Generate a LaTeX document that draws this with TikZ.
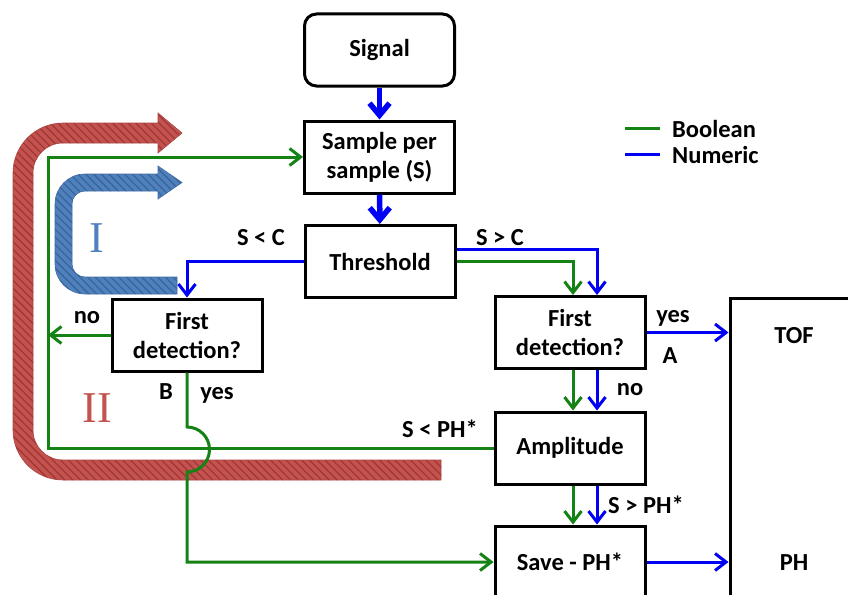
\documentclass[tikz,border=0pt]{standalone}
\usepackage{fontspec}
\setmainfont{Carlito}
\newfontfamily\romanfont{Liberation Serif}
\usetikzlibrary{arrows.meta,patterns.meta}
\definecolor{boolg}{RGB}{20,130,20}
\definecolor{numb}{RGB}{0,0,245}
\definecolor{bandred}{RGB}{196,82,78}
\definecolor{bandredd}{RGB}{160,56,54}
\definecolor{bandredo}{RGB}{170,70,68}
\definecolor{bandblue}{RGB}{79,129,189}
\definecolor{bandblued}{RGB}{58,100,155}
\definecolor{bandblueo}{RGB}{65,110,165}
\tikzset{
  box/.style={draw=black,line width=3pt,fill=white,minimum width=150pt,minimum height=72pt,inner sep=0pt,align=center,font=\fontsize{24.5}{29}\selectfont\bfseries},
  lbl/.style={inner sep=0pt,anchor=base,font=\fontsize{24.5}{29}\selectfont\bfseries},
  tip/.style={-{Straight Barb[length=11pt,width=17pt]}},
  tipthick/.style={-{Straight Barb[length=12pt,width=20pt]}},
  bool/.style={draw=boolg,line width=3pt},
  num/.style={draw=numb,line width=3pt},
  numthick/.style={draw=numb,line width=5.5pt},
  redband/.style={preaction={fill=bandred},pattern={Lines[angle=-45,distance=5.5pt,line width=1.3pt]},pattern color=bandredd,draw=bandredo,line width=0.6pt},
  blueband/.style={preaction={fill=bandblue},pattern={Lines[angle=-45,distance=5.5pt,line width=1.3pt]},pattern color=bandblued,draw=bandblueo,line width=0.6pt},
}
\begin{document}
\begin{tikzpicture}[x=1pt,y=-1pt]
\clip (0,0) rectangle (848,594);
\fill[white] (0,0) rectangle (848,594);
% decorative hatched arrows
\path[redband] (441,460) -- (63,460) .. controls (46.4,460) and (33,446.6) .. (33,430) -- (33,173) .. controls (33,156.4) and (46.4,143) .. (63,143) -- (158,143) -- (158,153) -- (182,133) -- (158,113) -- (158,123) -- (63,123) .. controls (35.4,123) and (13,145.4) .. (13,173) -- (13,430) .. controls (13,457.6) and (35.4,480) .. (63,480) -- (441,480) -- cycle;
\path[blueband] (177,277) -- (85,277) .. controls (77.8,277) and (72,271.2) .. (72,264) -- (72,204) .. controls (72,196.8) and (77.8,191) .. (85,191) -- (158,191) -- (158,199) -- (182,182.5) -- (158,166) -- (158,174) -- (85,174) .. controls (68.4,174) and (55,187.4) .. (55,204) -- (55,264) .. controls (55,280.6) and (68.4,294) .. (85,294) -- (177,294) -- cycle;
\node[text=bandblue,font=\romanfont\fontsize{44}{44}\selectfont,inner sep=0pt] (rI) at (97,238) {I};
\node[text=bandred,font=\romanfont\fontsize{44}{44}\selectfont,inner sep=0pt] (rII) at (97,408) {II};
% boxes
\node[box,rounded corners=12pt] (sig) at (379.5,50) {Signal};
\node[box] (samp) at (379.5,157) {Sample per\\sample (S)};
\node[box] (thr) at (380,261.5) {Threshold};
\node[box] (fdl) at (187,335) {First\\detection?};
\node[box] (fdr) at (570,332.5) {First\\detection?};
\node[box] (amp) at (570,448) {Amplitude};
\node[box] (save) at (570,562) {Save - PH*};
\node[draw=black,line width=3pt,minimum width=150pt,minimum height=330pt,inner sep=0pt] (out) at (805,463) {};
\node[lbl] (tof) at (794,343) {TOF};
\node[lbl] (ph) at (794,570) {PH};
\coordinate (lp) at (48,448);
% connectors
\draw[numthick,tipthick] (sig) -- (samp);
\draw[numthick,tipthick] (samp) -- (thr);
\draw[num,tip] (thr.west) -| (fdl.north);
\draw[num,tip] ([yshift=12pt]thr.east) -| ([xshift=27pt]fdr.north);
\draw[bool,tip] (thr.east) -| ([xshift=3pt]fdr.north);
\draw[num,tip] (fdr.east) -- (fdr.east -| out.west);
\draw[bool,tip] ([xshift=3pt]fdr.south) -- ([xshift=3pt]amp.north);
\draw[num,tip] ([xshift=27pt]fdr.south) -- ([xshift=27pt]amp.north);
\draw[bool,tip] ([xshift=3pt]amp.south) -- ([xshift=3pt]save.north);
\draw[num,tip] ([xshift=27pt]amp.south) -- ([xshift=27pt]save.north);
\draw[num,tip] (save.east) -- (save.east -| out.west);
\draw[bool,tip] (fdl.west) -- (fdl.west -| lp);
\draw[bool,tip] (amp.west) -- (amp.west -| lp) |- (samp.west);
\draw[bool,tip] (fdl.south) -- (187,427) .. controls (199.4,427) and (209.5,437.1) .. (209.5,449.5) .. controls (209.5,461.9) and (199.4,472) .. (187,472) -- (fdl.south |- save.west) -- (save.west);
% labels
\node[lbl] (l1) at (261,245) {S < C};
\node[lbl] (l2) at (500,245) {S > C};
\node[lbl] (l3) at (87,323) {no};
\node[lbl] (l4) at (166,399) {B};
\node[lbl] (l5) at (217,399) {yes};
\node[lbl] (l6) at (673,322) {yes};
\node[lbl] (l7) at (670,363) {A};
\node[lbl] (l8) at (630,395) {no};
\node[lbl] (l9) at (440,437) {S < PH*};
\node[lbl] (l10) at (646,513) {S > PH*};
% legend
\node[lbl,anchor=base west] (lgb) at (672,137) {Boolean};
\node[lbl,anchor=base west] (lgn) at (672,163) {Numeric};
\draw[bool] ([xshift=-47pt]lgb.west) -- ([xshift=-12pt]lgb.west);
\draw[num] ([xshift=-47pt]lgn.west) -- ([xshift=-12pt]lgn.west);
\end{tikzpicture}
\end{document}
